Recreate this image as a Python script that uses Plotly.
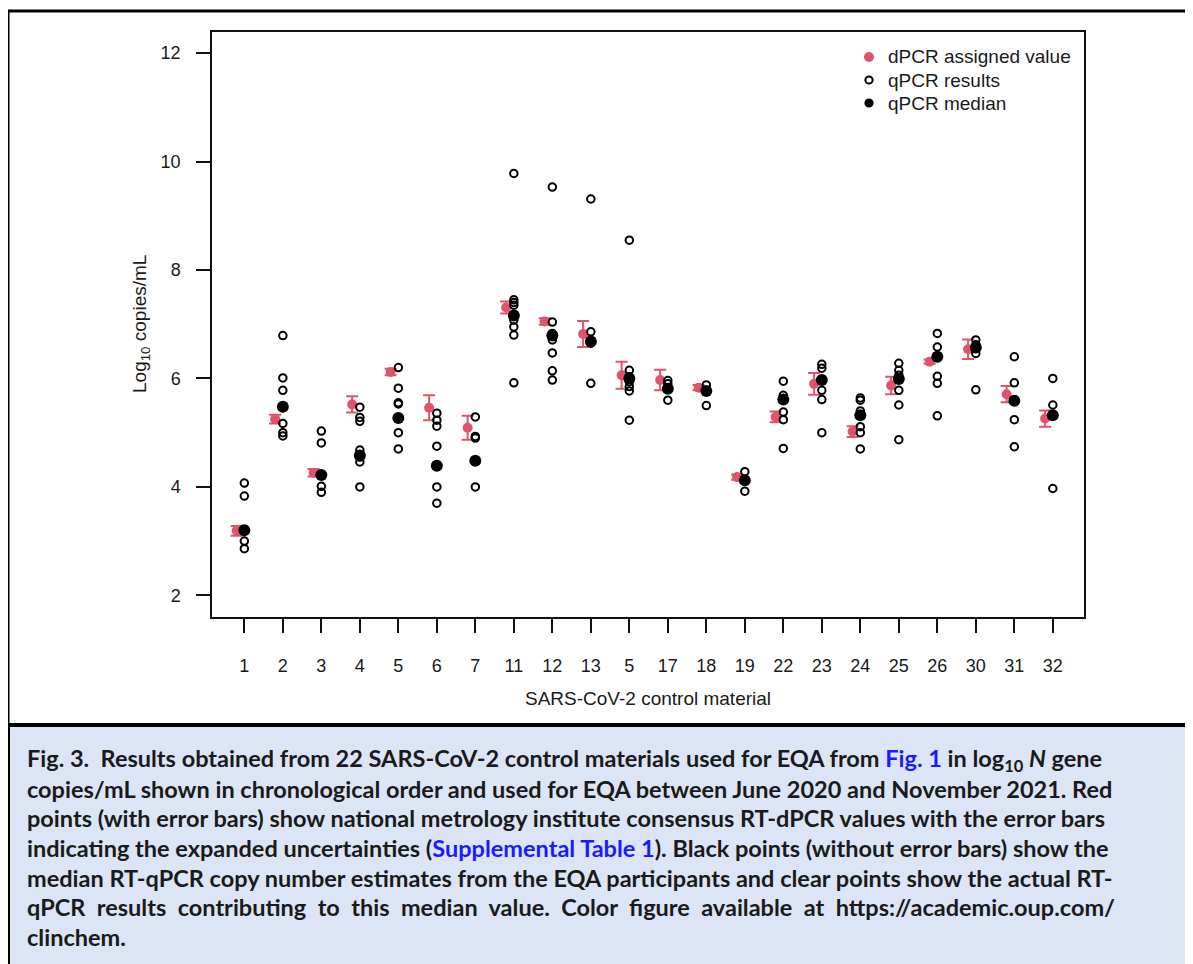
import plotly.graph_objects as go

# ---------------- data ----------------
categories = ["1", "2", "3", "4", "5", "6", "7", "11", "12", "13", "5",
              "17", "18", "19", "22", "23", "24", "25", "26", "30", "31", "32"]

dpcr_value = [3.19, 5.25, 4.26, 5.52, 6.12, 5.46, 5.09, 7.31, 7.05, 6.82, 6.06,
              5.97, 5.83, 4.18, 5.29, 5.90, 5.02, 5.87, 6.31, 6.54, 5.71, 5.26]
dpcr_uncertainty = [0.09, 0.08, 0.07, 0.15, 0.06, 0.23, 0.22, 0.11, 0.06, 0.24, 0.25,
                    0.19, 0.05, 0.05, 0.10, 0.20, 0.10, 0.16, 0.04, 0.18, 0.15, 0.15]
qpcr_median = [3.20, 5.48, 4.22, 4.58, 5.27, 4.39, 4.48, 7.16, 6.79, 6.68, 6.00,
               5.81, 5.77, 4.12, 5.61, 5.97, 5.32, 5.99, 6.40, 6.57, 5.59, 5.32]
qpcr_results = [
    [4.07, 3.83, 3.20, 3.00, 2.86],
    [6.79, 6.01, 5.78, 5.48, 5.17, 5.00, 4.94],
    [5.03, 4.81, 4.22, 4.01, 3.90],
    [5.47, 5.28, 5.21, 4.68, 4.58, 4.55, 4.46, 4.00],
    [6.20, 5.82, 5.55, 5.53, 5.27, 5.00, 4.70],
    [5.36, 5.23, 5.12, 4.75, 4.39, 4.00, 3.70],
    [5.29, 4.93, 4.90, 4.48, 4.00],
    [9.78, 7.45, 7.40, 7.35, 7.16, 7.08, 6.95, 6.80, 5.92],
    [9.53, 7.04, 6.83, 6.79, 6.71, 6.47, 6.14, 5.97],
    [9.31, 6.86, 6.68, 6.65, 5.91],
    [8.55, 6.15, 6.03, 6.00, 5.94, 5.85, 5.77, 5.23],
    [5.96, 5.90, 5.81, 5.60],
    [5.88, 5.77, 5.50],
    [4.28, 4.12, 3.92],
    [5.95, 5.69, 5.61, 5.38, 5.24, 4.71],
    [6.26, 6.19, 5.97, 5.78, 5.61, 5.00],
    [5.64, 5.60, 5.40, 5.32, 5.11, 5.00, 4.70],
    [6.28, 6.15, 6.06, 5.99, 5.78, 5.51, 4.87],
    [6.83, 6.58, 6.40, 6.04, 5.91, 5.31],
    [6.71, 6.62, 6.57, 6.46, 5.79],
    [6.40, 5.92, 5.59, 5.24, 4.74],
    [6.00, 5.51, 5.32, 3.97],
]
y_ticks = [2, 4, 6, 8, 10, 12]
legend_labels = ["dPCR assigned value", "qPCR results", "qPCR median"]

# ---------------- layout geometry (reference pixel coords) ----------------
REF_W, REF_H = 1193, 964
OFF = 8  # page body margin
W, H = REF_W - OFF, REF_H - OFF
PL, PR, PT, PB = 212, 1084, 32, 617  # plot area in reference pixels
PW, PH = PR - PL, PB - PT


def px2x(px):
    return (px - PL) / PW


def py2y(py):
    return (PB - py) / PH


RED = "#DF536B"
FONT = "Liberation Sans, Arial, Helvetica, sans-serif"
TXT = "#1a1a1a"

positions = list(range(1, len(categories) + 1))
red_offset = -0.2

fig = go.Figure()

fig.add_trace(go.Scatter(
    x=[p + red_offset for p in positions], y=dpcr_value,
    mode="markers", name=legend_labels[0],
    marker=dict(color=RED, size=10),
    error_y=dict(type="data", array=dpcr_uncertainty, visible=True,
                 color=RED, thickness=2, width=6),
))

res_x, res_y = [], []
for p, vals in zip(positions, qpcr_results):
    for v in vals:
        res_x.append(p)
        res_y.append(v)

fig.add_trace(go.Scatter(
    x=res_x, y=res_y, mode="markers", name=legend_labels[1],
    marker=dict(symbol="circle-open", color="black", size=7.5,
                line=dict(width=2, color="black")),
))

fig.add_trace(go.Scatter(
    x=positions, y=qpcr_median, mode="markers", name=legend_labels[2],
    marker=dict(color="black", size=12),
))

axis_common = dict(showline=True, mirror=True, linecolor="#111", linewidth=1.5,
                   ticks="outside", ticklen=14, tickwidth=1.5, tickcolor="#111",
                   showgrid=False, zeroline=False,
                   tickfont=dict(family=FONT, size=18, color=TXT))

fig.update_xaxes(range=[0.16, 22.81], tickmode="array", tickvals=positions,
                 ticktext=categories, ticklabelstandoff=18, **axis_common)
fig.update_yaxes(range=[1.60, 12.39], tickmode="array", tickvals=y_ticks,
                 ticktext=[str(t) for t in y_ticks], ticklabelstandoff=12,
                 **axis_common)

shapes = [
    dict(type="rect", xref="paper", yref="paper",
         x0=px2x(8), x1=px2x(1215), y0=py2y(11), y1=py2y(725),
         line=dict(color="black", width=3), fillcolor="white", layer="below"),
    dict(type="rect", xref="paper", yref="paper",
         x0=px2x(8), x1=px2x(1215), y0=py2y(725), y1=py2y(1000),
         line=dict(color="black", width=4), fillcolor="#dbe5f6", layer="below"),
]

# manual legend (no box, like R's bty="n")
leg_sym_x = 869
leg_text_x = 886
leg_rows = [57, 80, 103]
leg_syms = [
    dict(r=5, fill=RED, line=RED, lw=0),
    dict(r=3.6, fill="white", line="black", lw=2),
    dict(r=4.6, fill="black", line="black", lw=0),
]
annotations = []
for lab, ypx, s in zip(legend_labels, leg_rows, leg_syms):
    shapes.append(dict(type="circle", xref="paper", yref="paper",
                       xsizemode="pixel", ysizemode="pixel",
                       xanchor=px2x(leg_sym_x), yanchor=py2y(ypx),
                       x0=-s["r"], x1=s["r"], y0=-s["r"], y1=s["r"],
                       fillcolor=s["fill"],
                       line=dict(color=s["line"], width=s["lw"])))
    annotations.append(dict(text=lab, xref="paper", yref="paper",
                            x=px2x(leg_text_x), y=py2y(ypx),
                            xanchor="left", yanchor="middle", showarrow=False,
                            font=dict(family=FONT, size=19, color=TXT)))

annotations += [
    dict(text="SARS-CoV-2 control material", xref="paper", yref="paper",
         x=px2x(648), y=py2y(698), xanchor="center", yanchor="middle",
         showarrow=False, font=dict(family=FONT, size=19, color=TXT)),
    dict(text="Log<sub>10</sub> copies/mL", xref="paper", yref="paper",
         x=px2x(141), y=py2y(324), xanchor="center", yanchor="middle",
         textangle=-90, showarrow=False,
         font=dict(family=FONT, size=19, color=TXT)),
]

BLUE = "#1a1aff"
NB = "\u00a0"
SP2 = " " + NB
caption_lines = [
    "Fig. 3." + NB + NB + "Results obtained from 22 SARS-CoV-2 control materials used for EQA from "
    f"<span style='color:{BLUE}'>Fig. 1</span> in log<sub>10</sub> <i>N</i> gene",
    "copies/mL shown in chronological order and used for EQA between June 2020 and November 2021. Red",
    "points (with error bars) show national metrology institute consensus RT-dPCR values with the error bars",
    f"indicating the expanded uncertainties (<span style='color:{BLUE}'>Supplemental Table 1</span>). "
    "Black points (without error bars) show the",
    "median RT-qPCR copy number estimates from the EQA participants and clear points show the actual RT-",
    SP2.join("qPCR results contributing to this median value. Color figure available at "
             "https://academic.oup.com/".split(" ")),
    "clinchem.",
]
caption_y = [760, 789, 818, 848, 878, 907, 937]
for line, ypx in zip(caption_lines, caption_y):
    annotations.append(dict(
        text="<b>" + line + "</b>", xref="paper", yref="paper",
        x=px2x(25), y=py2y(ypx), xanchor="left", yanchor="middle",
        showarrow=False, font=dict(family="Lato, Noto Sans, sans-serif", size=23.5,
                                   color=TXT)))

fig.update_layout(
    width=W, height=H,
    margin=dict(l=PL - OFF, r=REF_W - PR, t=PT - OFF, b=REF_H - PB),
    paper_bgcolor="white", plot_bgcolor="rgba(0,0,0,0)",
    shapes=shapes, annotations=annotations,
    showlegend=False,
)

fig.write_html("out.html")
